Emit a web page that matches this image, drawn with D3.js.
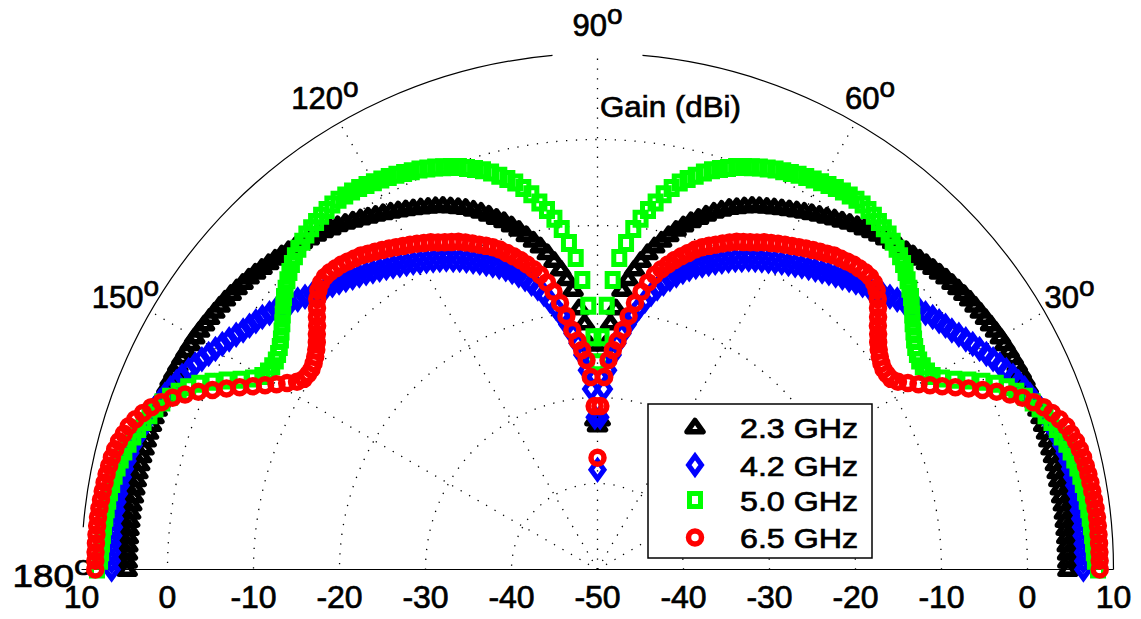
<!doctype html>
<html>
<head>
<meta charset="utf-8">
<title>Gain (dBi) - polar pattern</title>
<style>
  body { margin:0; background:#fff; }
  svg { display:block; background:#fff; }
  text { font-family: "Liberation Sans", Arial, Helvetica, sans-serif; fill:#000; stroke:#000; stroke-width:0.7px; }
  .grid { fill:none; stroke:#000; stroke-width:1.3; stroke-dasharray:1.3 8.5; }
  .frame { fill:none; stroke:#000; stroke-width:1.2; }
  .tick { font-size:32px; text-anchor:middle; }
  .ang { font-size:31px; text-anchor:middle; }
  .leg { font-size:28px; }
</style>
<script src="https://d3js.org/d3.v7.min.js"></script>
</head>
<body>
<svg id="chart" width="1141" height="619"></svg>
<script>

// data : gain (dBi) read every degree, 0 deg (right) .. 180 deg (left)

var angles = d3.range(0, 181, 1)

var gain23 = [
  4.7,4.7,4.7,4.7,4.7,4.7,4.7,4.7,4.7,4.65,
  4.65,4.65,4.65,4.65,4.65,4.6,4.6,4.6,4.55,4.55,
  4.5,4.5,4.45,4.4,4.4,4.35,4.3,4.25,4.2,4.15,
  4.1,4.0,3.9,3.8,3.7,3.6,3.5,3.35,3.2,3.05,
  2.9,2.7,2.5,2.3,2.1,1.9,1.7,1.5,1.3,1.1,
  0.9,0.7,0.4,0.2,-0.1,-0.4,-0.7,-1.0,-1.3,-1.6,
  -1.9,-2.2,-2.5,-2.8,-3.1,-3.4,-3.7,-4.0,-4.4,-4.8,
  -5.2,-5.7,-6.2,-6.8,-7.4,-8.0,-8.7,-9.4,-10.2,-11.0,
  -11.8,-12.7,-13.7,-14.8,-16.0,-17.3,-19.5,-21.3,-23.8,-32.5,
  -33.2,
  -32.5,-23.8,-21.3,-19.5,-17.3,-16.0,-14.8,-13.7,-12.7,-11.8,
  -11.0,-10.2,-9.4,-8.7,-8.0,-7.4,-6.8,-6.2,-5.7,-5.2,
  -4.8,-4.4,-4.0,-3.7,-3.4,-3.1,-2.8,-2.5,-2.2,-1.9,
  -1.6,-1.3,-1.0,-0.7,-0.4,-0.1,0.2,0.4,0.7,0.9,
  1.1,1.3,1.5,1.7,1.9,2.1,2.3,2.5,2.7,2.9,
  3.05,3.2,3.35,3.5,3.6,3.7,3.8,3.9,4.0,4.1,
  4.15,4.2,4.25,4.3,4.35,4.4,4.4,4.45,4.5,4.5,
  4.55,4.55,4.6,4.6,4.6,4.65,4.65,4.65,4.65,4.65,
  4.65,4.7,4.7,4.7,4.7,4.7,4.7,4.7,4.7,4.7
]

var gain42 = [
  6.5,6.5,6.5,6.5,6.45,6.45,6.45,6.4,6.4,6.35,
  6.3,6.25,6.2,6.1,6.0,5.85,5.7,5.5,5.3,5.1,
  4.85,4.55,4.25,3.95,3.6,3.3,2.9,2.5,2.1,1.7,
  1.3,0.9,0.5,0.1,-0.3,-0.6,-0.9,-1.2,-1.6,-1.9,
  -2.3,-2.7,-3.1,-3.5,-3.9,-4.2,-4.5,-4.8,-5.1,-5.4,
  -5.7,-6.0,-6.3,-6.6,-6.9,-7.2,-7.5,-7.8,-8.1,-8.4,
  -8.7,-9.0,-9.3,-9.6,-9.9,-10.3,-10.6,-11.0,-11.4,-11.8,
  -12.2,-12.6,-13.0,-13.5,-14.0,-14.6,-15.2,-15.9,-16.6,-17.4,
  -18.3,-19.2,-20.2,-21.3,-22.4,-23.6,-25.0,-26.8,-29.0,-32.3,
  -38.4,
  -32.3,-29.0,-26.8,-25.0,-23.6,-22.4,-21.3,-20.2,-19.2,-18.3,
  -17.4,-16.6,-15.9,-15.2,-14.6,-14.0,-13.5,-13.0,-12.6,-12.2,
  -11.8,-11.4,-11.0,-10.6,-10.3,-9.9,-9.6,-9.3,-9.0,-8.7,
  -8.4,-8.1,-7.8,-7.5,-7.2,-6.9,-6.6,-6.3,-6.0,-5.7,
  -5.4,-5.1,-4.8,-4.5,-4.2,-3.9,-3.5,-3.1,-2.7,-2.3,
  -1.9,-1.6,-1.2,-0.9,-0.6,-0.3,0.1,0.5,0.9,1.3,
  1.7,2.1,2.5,2.9,3.3,3.6,3.95,4.25,4.55,4.85,
  5.1,5.3,5.5,5.7,5.85,6.0,6.1,6.2,6.25,6.3,
  6.35,6.4,6.4,6.45,6.45,6.45,6.5,6.5,6.5,6.5
]

var gain50 = [
  8.2,7.85,7.75,7.7,7.65,7.6,7.55,7.5,7.45,7.4,
  7.3,7.2,7.05,6.9,6.7,6.45,6.15,5.85,5.5,5.1,
  4.7,4.2,3.6,2.9,2.1,1.1,-0.2,-1.6,-3.0,-4.2,
  -5.0,-5.3,-5.4,-5.4,-5.2,-4.9,-4.5,-4.0,-3.5,-2.9,
  -2.3,-1.7,-1.2,-0.7,-0.2,0.25,0.65,1.0,1.3,1.6,
  1.8,2.0,2.2,2.35,2.45,2.5,2.45,2.4,2.3,2.15,
  2.0,1.85,1.7,1.5,1.3,1.1,0.9,0.65,0.4,0.1,
  -0.2,-0.5,-0.9,-1.3,-1.7,-2.2,-2.8,-3.4,-4.0,-4.8,
  -5.7,-6.8,-7.8,-8.9,-10.2,-11.9,-13.7,-16.3,-19.3,-23.0,
  -25.9,
  -23.0,-19.3,-16.3,-13.7,-11.9,-10.2,-8.9,-7.8,-6.8,-5.7,
  -4.8,-4.0,-3.4,-2.8,-2.2,-1.7,-1.3,-0.9,-0.5,-0.2,
  0.1,0.4,0.65,0.9,1.1,1.3,1.5,1.7,1.85,2.0,
  2.15,2.3,2.4,2.45,2.5,2.45,2.35,2.2,2.0,1.8,
  1.6,1.3,1.0,0.65,0.25,-0.2,-0.7,-1.2,-1.7,-2.3,
  -2.9,-3.5,-4.0,-4.5,-4.9,-5.2,-5.4,-5.4,-5.3,-5.0,
  -4.2,-3.0,-1.6,-0.2,1.1,2.1,2.9,3.6,4.2,4.7,
  5.1,5.5,5.85,6.15,6.45,6.7,6.9,7.05,7.2,7.3,
  7.4,7.45,7.5,7.55,7.6,7.65,7.7,7.75,7.85,8.2
]

var gain65 = [
  8.4,8.4,8.4,8.4,8.4,8.4,8.4,8.35,8.3,8.25,
  8.2,8.15,8.05,7.95,7.8,7.6,7.3,7.0,6.5,5.9,
  5.2,4.3,3.3,2.1,0.8,-0.6,-2.0,-3.3,-4.6,-5.8,
  -6.9,-7.9,-8.8,-9.3,-9.4,-9.4,-9.2,-8.9,-8.5,-8.0,
  -7.4,-6.8,-6.1,-5.4,-4.7,-4.1,-3.7,-3.5,-3.5,-3.6,
  -3.7,-3.9,-4.1,-4.3,-4.6,-4.9,-5.2,-5.5,-5.8,-6.1,
  -6.4,-6.7,-7.0,-7.3,-7.7,-8.0,-8.3,-8.6,-9.0,-9.4,
  -9.8,-10.2,-10.6,-11.1,-11.7,-12.3,-12.9,-13.6,-14.3,-15.1,
  -16.1,-17.3,-18.7,-20.3,-22.0,-23.3,-24.4,-25.6,-27.6,-31.0,
  -37.0,
  -31.0,-27.6,-25.6,-24.4,-23.3,-22.0,-20.3,-18.7,-17.3,-16.1,
  -15.1,-14.3,-13.6,-12.9,-12.3,-11.7,-11.1,-10.6,-10.2,-9.8,
  -9.4,-9.0,-8.6,-8.3,-8.0,-7.7,-7.3,-7.0,-6.7,-6.4,
  -6.1,-5.8,-5.5,-5.2,-4.9,-4.6,-4.3,-4.1,-3.9,-3.7,
  -3.6,-3.5,-3.5,-3.7,-4.1,-4.7,-5.4,-6.1,-6.8,-7.4,
  -8.0,-8.5,-8.9,-9.2,-9.4,-9.4,-9.3,-8.8,-7.9,-6.9,
  -5.8,-4.6,-3.3,-2.0,-0.6,0.8,2.1,3.3,4.3,5.2,
  5.9,6.5,7.0,7.3,7.6,7.8,7.95,8.05,8.15,8.2,
  8.25,8.3,8.35,8.4,8.4,8.4,8.4,8.4,8.4,8.4
]

var seriesNames = ["2.3 GHz", "4.2 GHz", "5.0 GHz", "6.5 GHz"]
var radialTicks = [-50, -40, -30, -20, -10, 0, 10]
var angleTicks = [30, 60, 90, 120, 150, 180]

// layout

var cx = 597.5, cy = 569.5, R = 516
var r = d3.scaleLinear().domain([-50, 10]).range([0, R])
var rad = Math.PI / 180

function pos(deg, g) {
  return [cx + r(g) * Math.cos(deg * rad), cy - r(g) * Math.sin(deg * rad)]
}

var svg = d3.select("#chart")

// dotted circles and spokes

radialTicks.slice(1, -1).forEach(function(t) {
  var p = d3.path()
  p.arc(cx, cy, r(t), 0, -Math.PI, true)
  svg.append("path").attr("class", "grid").attr("d", p.toString())
})

angleTicks.slice(0, -1).forEach(function(a) {
  var e = pos(a, 10)
  svg.append("line").attr("class", "grid")
     .attr("x1", cx).attr("y1", cy)
     .attr("x2", e[0]).attr("y2", e[1])
})

// outer circle (gaps where the labels sit) and the 0-180 line

var outer = d3.path()
outer.arc(cx, cy, r(10), 0, -85 * rad, true)
outer.moveTo(cx + r(10) * Math.cos(95 * rad), cy - r(10) * Math.sin(95 * rad))
outer.arc(cx, cy, r(10), -95 * rad, -175.3 * rad, true)
svg.append("path").attr("class", "frame").attr("d", outer.toString())

svg.append("line").attr("class", "frame")
   .attr("x1", cx - r(10)).attr("y1", cy)
   .attr("x2", cx + r(10)).attr("y2", cy)

// radial tick labels along the bottom

radialTicks.forEach(function(t) {
  var xs = t === -50 ? [cx] : [cx - r(t), cx + r(t)]
  xs.forEach(function(x) {
    svg.append("text").attr("class", "tick")
       .attr("x", x).attr("y", 608).text(t)
  })
})

// angle labels

angleTicks.forEach(function(a) {
  var lx = cx + 545 * Math.cos(a * rad)
  var ly = cy - 545 * Math.sin(a * rad) + 11 + (a === 180 ? 6 : 0)
  var t = svg.append("text").attr("class", "ang")
             .attr("x", lx).attr("y", ly)
  t.append("tspan").text(a)
  t.append("tspan").attr("dy", -12).attr("font-size", 28).text("o")
  if (a === 180) t.attr("textLength", 80).attr("lengthAdjust", "spacingAndGlyphs")
})

svg.append("text").attr("x", 600).attr("y", 117)
   .attr("font-size", 30)
   .attr("textLength", 141).attr("lengthAdjust", "spacingAndGlyphs")
   .text("Gain (dBi)")

// markers

var shapes = [
  { color:"#000000", d:"M0,-6.5L8,4.8L-8,4.8Z", w:5.5, join:"round" },
  { color:"#0000ff", d:"M0,-9L6.5,0L0,9L-6.5,0Z", w:5, join:"miter" },
  { color:"#00ff00", d:"M-5.5,-6.5H5.5V6.5H-5.5Z", w:5, join:"miter" },
  { color:"#ff0000", d:"M6.5,0A6.5,6.5 0 1,1 -6.5,0A6.5,6.5 0 1,1 6.5,0Z", w:5.5, join:"round" }
]
var gains = [gain23, gain42, gain50, gain65]

function marker(sel, k) {
  sel.attr("d", shapes[k].d)
     .attr("fill", "none")
     .attr("stroke", shapes[k].color)
     .attr("stroke-width", shapes[k].w)
     .attr("stroke-linejoin", shapes[k].join)
}

gains.forEach(function(g, k) {
  svg.append("g")
     .selectAll("path")
     .data(angles)
     .enter()
     .append("path")
     .call(marker, k)
     .attr("transform", function(a, i) {
       var p = pos(a, g[i])
       return "translate(" + p[0] + "," + p[1] + ")"
     })
})

// legend

svg.append("rect")
   .attr("x", 648).attr("y", 404).attr("width", 224).attr("height", 154)
   .attr("fill", "#fff").attr("stroke", "#000").attr("stroke-width", 1.5)

var legY = [427, 465, 500, 537.5]
seriesNames.forEach(function(name, k) {
  svg.append("path")
     .call(marker, k)
     .attr("transform", "translate(695," + legY[k] + ")")
  svg.append("text").attr("class", "leg")
     .attr("x", 740).attr("y", legY[k] + 10.5)
     .attr("textLength", 118).attr("lengthAdjust", "spacingAndGlyphs")
     .text(name)
})

</script>
</body>
</html>
